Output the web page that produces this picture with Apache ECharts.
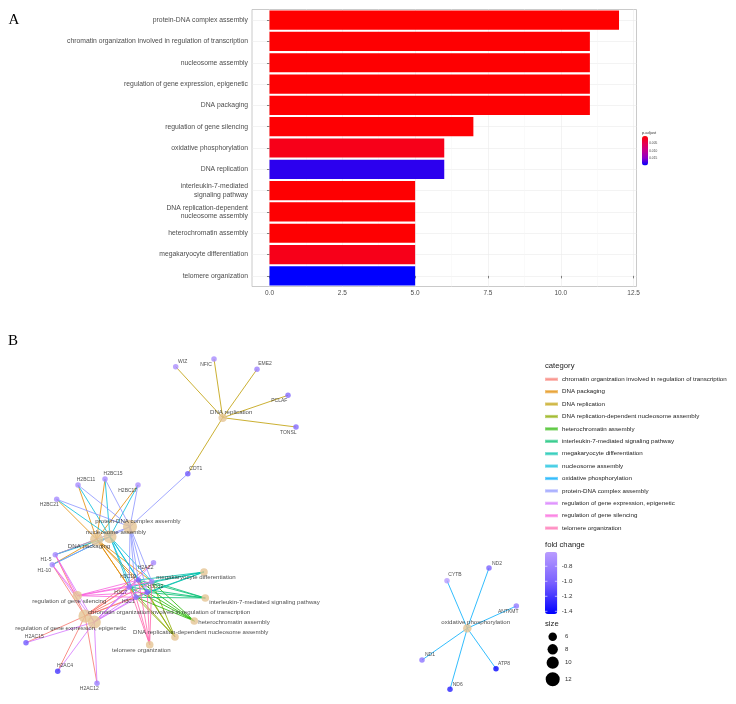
<!DOCTYPE html>
<html><head><meta charset="utf-8">
<script src="https://cdn.jsdelivr.net/npm/echarts@6/dist/echarts.min.js"></script>
<style>html,body{margin:0;padding:0;background:#fff}#c{width:736px;height:704px}</style>
</head><body><div id="c"></div>
<script>
// ---------- Panel A : enrichment bar chart ----------
const terms = ['protein-DNA complex assembly','chromatin organization involved in regulation of transcription','nucleosome assembly','regulation of gene expression, epigenetic','DNA packaging','regulation of gene silencing','oxidative phosphorylation','DNA replication','interleukin-7-mediated signaling pathway','DNA replication-dependent nucleosome assembly','heterochromatin assembly','megakaryocyte differentiation','telomere organization'];
const termAxisLabels = ['protein-DNA complex assembly','chromatin organization involved in regulation of transcription','nucleosome assembly','regulation of gene expression, epigenetic','DNA packaging','regulation of gene silencing','oxidative phosphorylation','DNA replication','interleukin-7-mediated\nsignaling pathway','DNA replication-dependent\nnucleosome assembly','heterochromatin assembly','megakaryocyte differentiation','telomere organization'];
const geneCounts = [12,11,11,11,11,7,6,6,5,5,5,5,5];
const pAdjust = [0.0004,0.0005,0.0005,0.0005,0.0005,0.0006,0.0019,0.0181,0.0005,0.0005,0.0005,0.0019,0.0196];
const xTicks = [0,2.5,5,7.5,10,12.5];
const xMinorTicks = [1.25,3.75,6.25,8.75,11.25];
const pTicks = [0.005,0.010,0.015];
const pRange = [0.0004,0.0196];

// ---------- Panel B : gene-concept network ----------
const geneNames = ['WIZ','NFIC','EME2','PCLAF','TONSL','CDT1','H2BC15','H2BC11','H2BC17','H2BC21','H1-5','H1-10','H2AZ2','H3C10','H3C12','H3C7','H3C8','H3C1','H2AC15','H2AC4','H2AC12','ND2','CYTB','ANTKMT','ND1','ATP8','ND6'];
const geneX = [16.57,20.4,24.7,27.8,28.6,17.78,9.5,6.8,12.8,4.67,4.53,4.23,14.35,12.83,14.18,11.92,13.72,12.6,1.6,4.77,8.7,47.9,43.7,50.63,41.2,48.6,44.0];
const geneY = [33.33,34.1,33.07,30.47,27.3,22.63,22.1,21.5,21.5,20.07,14.53,13.53,13.73,12.0,11.85,11.3,10.77,10.27,5.73,2.87,1.67,13.2,11.93,9.4,4.0,3.13,1.07];
const foldChange = [-0.70,-0.72,-0.80,-0.95,-0.95,-1.05,-0.72,-0.72,-0.68,-0.72,-0.75,-0.75,-0.72,-1.00,-0.75,-0.85,-1.00,-0.90,-1.05,-1.20,-0.80,-1.00,-0.62,-0.85,-0.88,-1.42,-1.30];
const fcRange = [-1.436,-0.61];
const fcTicks = [-0.8,-1.0,-1.2,-1.4];
const termX = [12.0,7.5,10.0,8.43,8.67,6.73,45.73,21.27,19.53,16.5,18.43,19.4,13.97];
const termY = [17.33,8.4,16.33,7.8,16.07,10.43,7.17,28.23,10.2,6.3,7.9,12.8,5.53];
const sizeTicks = [6,8,10,12];

const genesProteinDNA = ['H2BC11','H2BC15','H2BC17','H2BC21','H3C10','H3C12','H3C7','H3C8','H3C1','CDT1','H1-5','H1-10'];
const genesChromatin = ['H3C10','H3C12','H3C7','H3C8','H3C1','H2AC15','H2AC4','H2AC12','H1-5','H1-10','H2AZ2'];
const genesNucleosome = ['H2BC11','H2BC15','H2BC17','H2BC21','H3C10','H3C12','H3C7','H3C8','H3C1','H1-5','H1-10'];
const genesGeneExpr = ['H3C10','H3C12','H3C7','H3C8','H3C1','H2AC15','H2AC4','H2AC12','H1-5','H1-10','H2AZ2'];
const genesPackaging = ['H2BC11','H2BC15','H2BC17','H2BC21','H3C10','H3C12','H3C7','H3C8','H3C1','H1-5','H1-10'];
const genesSilencing = ['H3C10','H3C12','H3C7','H3C8','H3C1','H1-5','H1-10'];
const genesOxphos = ['ND2','CYTB','ANTKMT','ND1','ATP8','ND6'];
const genesReplication = ['WIZ','NFIC','EME2','PCLAF','TONSL','CDT1'];
const genesIL7 = ['H3C10','H3C12','H3C7','H3C8','H3C1'];
const genesRepDep = ['H3C10','H3C12','H3C7','H3C8','H3C1'];
const genesHetero = ['H3C10','H3C12','H3C7','H3C8','H3C1'];
const genesMegak = ['H3C10','H3C12','H3C7','H3C8','H3C1'];
const genesTelomere = ['H3C10','H3C12','H3C7','H3C8','H3C1'];

const categories = ['chromatin organization involved in regulation of transcription','DNA packaging','DNA replication','DNA replication-dependent nucleosome assembly','heterochromatin assembly','interleukin-7-mediated signaling pathway','megakaryocyte differentiation','nucleosome assembly','oxidative phosphorylation','protein-DNA complex assembly','regulation of gene expression, epigenetic','regulation of gene silencing','telomere organization'];
const catColors = ['#F8766D','#E18A00','#BE9C00','#8CAB00','#24B700','#00BE70','#00C1AB','#00BBDA','#00ACFC','#8B93FF','#D575FE','#F962DD','#FF65AC'];

// ---------- styles (label placement) ----------
const geneLabelOffset = {WIZ:[7,-5],NFIC:[-8,5.3],EME2:[8,-5.3],PCLAF:[-8.7,5.4],TONSL:[-7.7,5.3],CDT1:[8,-5],H2BC15:[8,-5.3],H2BC11:[8,-5.3],H2BC17:[-10.3,5.3],H2BC21:[-7.4,5.7],'H1-5':[-9.3,5.3],'H1-10':[-8,5.6],H2AZ2:[-7.8,5.3],H3C10:[-10.3,-3],H3C12:[3.7,5],H3C7:[-8.5,5.5],H3C1:[-7.7,4.7],H2AC15:[8.3,-5.7],H2AC4:[7.3,-5.3],H2AC12:[-7.7,5.4],ND2:[8,-4.7],CYTB:[8,-5.7],ANTKMT:[-8,5.3],ND1:[8,-5],ATP8:[8,-5.4],ND6:[7.7,-5]};
const termLabelStyle = [[8,-5.4,'center'],[3,-3.3,'left'],[6,-4.7,'center'],[-23.6,6,'center'],[-7.7,6.7,'center'],[-8,5.6,'center'],[8.4,-6,'center'],[8.5,-5.7,'center'],[4,4.7,'left'],[25.7,-4.7,'center'],[4,1.3,'left'],[-8,5.6,'center'],[-8.4,6,'center']];

const FONT = 'Liberation Sans, Arial, Helvetica, sans-serif';
const SERIF = 'Liberation Serif, Times New Roman, serif';
const sizeFn = n => 3 + 0.92 * n;

const termGeneLists = [genesProteinDNA,genesChromatin,genesNucleosome,genesGeneExpr,genesPackaging,genesSilencing,genesOxphos,genesReplication,genesIL7,genesRepDep,genesHetero,genesMegak,genesTelomere];
const geneIndex = {}; geneNames.forEach((g,i)=>{geneIndex[g]=i;});

const lineSeries = categories.map((cat, ci) => {
  const ti = terms.indexOf(cat);
  return {
    type:'lines', name:cat, coordinateSystem:'cartesian2d', xAxisIndex:2, yAxisIndex:2, silent:true, z:2,
    lineStyle:{color:catColors[ci], width:1, opacity:0.8},
    data: termGeneLists[ti].map(g => ({coords:[[termX[ti],termY[ti]],[geneX[geneIndex[g]],geneY[geneIndex[g]]]]}))
  };
});

const chart = echarts.init(document.getElementById('c'));

// legend geometry helpers
const pBar = {left:642, top:136, w:6, h:29.5};
const fcBar = {left:545, top:552, w:12.3, h:62};
const graphics = [];
graphics.push({type:'text', x:8.5, y:20.5, style:{text:'A', font:'15px '+SERIF, fill:'#000', verticalAlign:'middle'}});
graphics.push({type:'text', x:8, y:341.5, style:{text:'B', font:'15px '+SERIF, fill:'#000', verticalAlign:'middle'}});
graphics.push({type:'text', x:pBar.left, y:132.5, style:{text:'p.adjust', font:'4px '+FONT, fill:'#333', verticalAlign:'middle'}});
pTicks.forEach(v => {
  const y = pBar.top + (v - pRange[0]) / (pRange[1] - pRange[0]) * pBar.h;
  graphics.push({type:'text', x:pBar.left + pBar.w + 1.2, y:y, style:{text:v.toFixed(3), font:'3.2px '+FONT, fill:'#444', verticalAlign:'middle'}});
});
graphics.push({type:'text', x:545, y:365.5, style:{text:'category', font:'7.7px '+FONT, fill:'#222', verticalAlign:'middle'}});
graphics.push({type:'text', x:545, y:544.5, style:{text:'fold change', font:'7.7px '+FONT, fill:'#222', verticalAlign:'middle'}});
fcTicks.forEach(v => {
  const y = fcBar.top + (fcRange[1] - v) / (fcRange[1] - fcRange[0]) * fcBar.h;
  graphics.push({type:'text', x:fcBar.left + fcBar.w + 4.5, y:y, style:{text:v.toFixed(1), font:'6.2px '+FONT, fill:'#333', verticalAlign:'middle'}});
  graphics.push({type:'line', z:100, shape:{x1:fcBar.left, y1:y, x2:fcBar.left+2.4, y2:y}, style:{stroke:'#fff', lineWidth:0.6}});
  graphics.push({type:'line', z:100, shape:{x1:fcBar.left+fcBar.w-2.4, y1:y, x2:fcBar.left+fcBar.w, y2:y}, style:{stroke:'#fff', lineWidth:0.6}});
});
graphics.push({type:'text', x:545, y:624, style:{text:'size', font:'7.7px '+FONT, fill:'#222', verticalAlign:'middle'}});
const sizeKeySteps = [0, 12.6, 13.4, 16.6];
let sy = 636.7;
sizeTicks.forEach((s, i) => {
  sy += sizeKeySteps[i];
  const d = sizeFn(s);
  graphics.push({type:'circle', shape:{cx:552.7, cy:sy, r:d/2}, style:{fill:'#000'}});
  graphics.push({type:'text', x:565, y:sy, style:{text:String(s), font:'6px '+FONT, fill:'#333', verticalAlign:'middle'}});
});

const option = {
  animation:false,
  backgroundColor:'#fff',
  textStyle:{fontFamily:FONT},
  grid:[
    {left:252, right:99.5, top:9.5, bottom:417.5, show:true, borderColor:'#BDBDBD', borderWidth:0.8, backgroundColor:'#fff'},
    {left:10, right:206, top:340, bottom:4}
  ],
  xAxis:[
    {gridIndex:0, type:'value', min:-0.6, max:12.6, axisLine:{show:false},
     axisTick:{show:true, customValues:xTicks, length:2.5, lineStyle:{color:'#333', width:0.6}},
     axisLabel:{customValues:xTicks, formatter:v=>v.toFixed(1), fontSize:6.5, color:'#4D4D4D', margin:3, fontFamily:FONT},
     splitLine:{show:true, lineStyle:{color:'#EBEBEB', width:0.6}}},
    {gridIndex:0, type:'value', min:-0.6, max:12.6, position:'bottom', axisLine:{show:false},
     axisTick:{show:false, customValues:xMinorTicks}, axisLabel:{show:false, customValues:xMinorTicks},
     splitLine:{show:true, lineStyle:{color:'#F5F5F5', width:0.5}}},
    {gridIndex:1, type:'value', min:0, max:52, show:false}
  ],
  yAxis:[
    {gridIndex:0, type:'category', data:termAxisLabels, inverse:true, axisLine:{show:false},
     axisTick:{show:true, alignWithLabel:true, length:2.5, lineStyle:{color:'#333', width:0.6}},
     axisLabel:{fontSize:6.8, color:'#4D4D4D', margin:4, lineHeight:8.3, align:'right', fontFamily:FONT},
     splitLine:{show:false}},
    {gridIndex:0, type:'value', min:-0.5, max:12.5, position:'left', axisLine:{show:false},
     axisTick:{show:false, customValues:terms.map((t,i)=>i)}, axisLabel:{show:false, customValues:terms.map((t,i)=>i)},
     splitLine:{show:true, lineStyle:{color:'#EBEBEB', width:0.6}}},
    {gridIndex:1, type:'value', min:0, max:36, show:false}
  ],
  visualMap:[
    {type:'continuous', seriesIndex:0, dimension:2, min:pRange[0], max:pRange[1], inverse:true, calculable:false,
     inRange:{color:['#FF0000','#E60050','#C4008E','#8D00C9','#0000FF']}, orient:'vertical',
     left:pBar.left, top:pBar.top, itemWidth:pBar.w, itemHeight:pBar.h, padding:0, text:null, hoverLink:false},
    {type:'continuous', seriesIndex:14, dimension:2, min:fcRange[0], max:fcRange[1], calculable:false,
     inRange:{color:['#0000FF','#7860FF','#B99CFF']}, orient:'vertical',
     left:fcBar.left, top:fcBar.top, itemWidth:fcBar.w, itemHeight:fcBar.h, padding:0, text:null, hoverLink:false}
  ],
  legend:{
    orient:'vertical', left:545, top:375.3, selectedMode:false, icon:'rect', itemWidth:11, itemHeight:1.2, itemGap:4.4, padding:0,
    textStyle:{fontSize:6.2, color:'#222', lineHeight:8, fontFamily:FONT},
    data: categories.map((c,i)=>({name:c, itemStyle:{color:catColors[i], opacity:0.55}}))
  },
  graphic: graphics,
  series:[
    {type:'bar', name:'Count', xAxisIndex:0, yAxisIndex:0, barCategoryGap:'10%', z:3,
     encode:{x:0, y:1}, data: terms.map((t,i)=>[geneCounts[i], i, pAdjust[i]])},
    ...lineSeries,
    {type:'scatter', name:'genes', xAxisIndex:2, yAxisIndex:2, symbolSize:5.5, z:4, encode:{x:0, y:1},
     label:{show:true, position:'inside', formatter:p=>p.name, fontSize:5, color:'#222', fontFamily:FONT},
     data: geneNames.map((g,i)=>({name:g, value:[geneX[i],geneY[i],foldChange[i]],
       label:{show: geneLabelOffset[g]!==undefined, offset: geneLabelOffset[g] || [0,0]}}))},
    {type:'scatter', name:'terms', xAxisIndex:2, yAxisIndex:2, z:5, encode:{x:0, y:1},
     symbolSize: v => sizeFn(v[2]), itemStyle:{color:'#E5C494'},
     label:{show:true, position:'inside', formatter:p=>p.name, fontSize:6.1, color:'#222', fontFamily:FONT},
     data: terms.map((t,i)=>({name:t, value:[termX[i],termY[i],geneCounts[i]],
       label:{offset:[termLabelStyle[i][0], termLabelStyle[i][1]], align:termLabelStyle[i][2]}}))}
  ]
};
chart.setOption(option);
</script></body></html>
